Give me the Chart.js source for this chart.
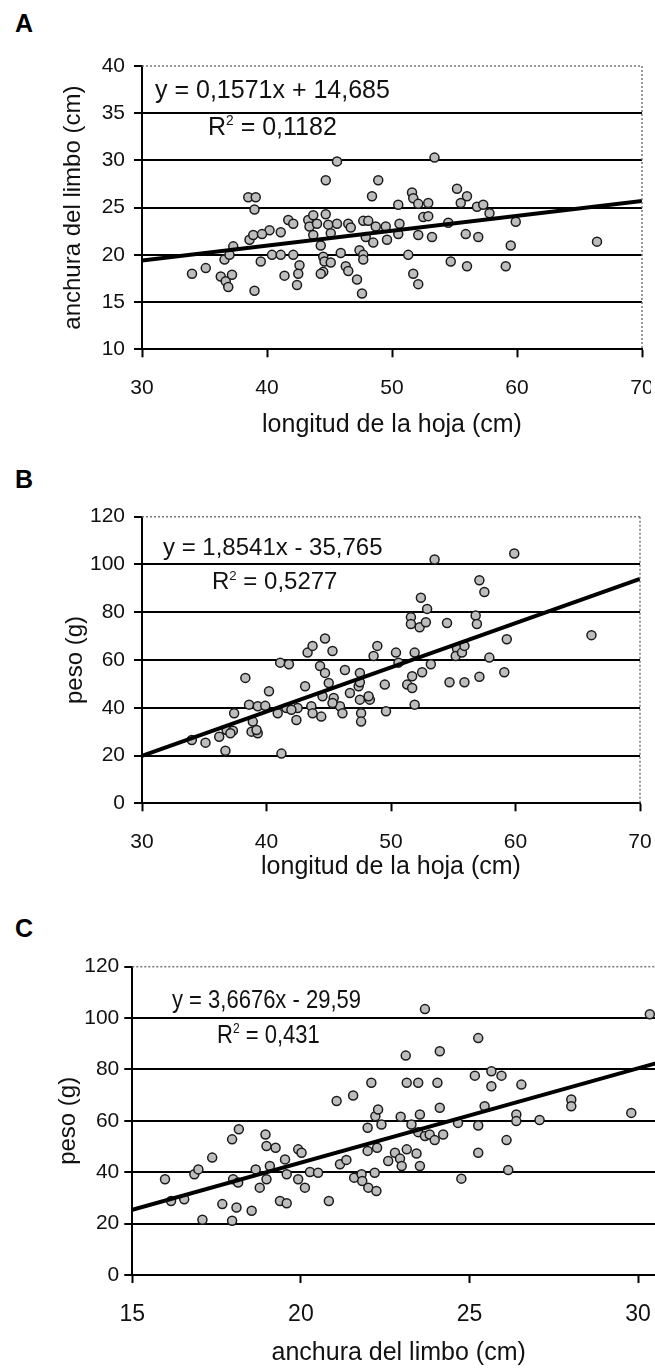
<!DOCTYPE html>
<html>
<head>
<meta charset="utf-8">
<script src="https://cdn.jsdelivr.net/npm/chart.js@4.4.0/dist/chart.umd.min.js"></script>
<style>
html, body { margin: 0; padding: 0; background: #fff; width: 655px; height: 1368px; overflow: hidden; }
.panel { position: absolute; left: 0; overflow: hidden; }
.panel canvas { position: absolute; left: 0; top: 0; }
.letter { position: absolute; left: 15px; font: bold 25px 'Liberation Sans', Arial, sans-serif; line-height: 1; color: #000; }
.eq { position: absolute; font-family: 'Liberation Sans', Arial, sans-serif; line-height: 1; white-space: nowrap; color: #111; transform-origin: left center; }
.eq sup { font-size: 0.55em; vertical-align: 0.7em; }
</style>
</head>
<body>

<div class="letter" style="top:11px">A</div>
<div class="letter" style="top:467px">B</div>
<div class="letter" style="top:916px">C</div>

<div class="panel" style="top:0px;width:651px;height:450px"><canvas id="chartA" width="760" height="450"></canvas></div>
<div class="panel" style="top:460px;width:655px;height:430px"><canvas id="chartB" width="760" height="430"></canvas></div>
<div class="panel" style="top:930px;width:655px;height:438px"><canvas id="chartC" width="760" height="438"></canvas></div>

<div class="eq" style="left:155px;top:77px;font-size:25px">y = 0,1571x + 14,685</div>
<div class="eq" style="left:208px;top:114px;font-size:25px">R<sup>2</sup> = 0,1182</div>
<div class="eq" style="left:163px;top:535px;font-size:24px">y = 1,8541x - 35,765</div>
<div class="eq" style="left:212px;top:569px;font-size:24px">R<sup>2</sup> = 0,5277</div>
<div class="eq" style="left:172px;top:987px;font-size:25px;transform:scaleX(0.88)">y = 3,6676x - 29,59</div>
<div class="eq" style="left:217px;top:1022px;font-size:25px;transform:scaleX(0.88)">R<sup>2</sup> = 0,431</div>

<script>
// A: leaf length vs blade width
const leafLenA = [34.0, 35.1, 36.3, 36.7, 36.9, 37.2, 36.6, 37.0, 37.3, 39.0, 38.6, 38.9, 38.5, 39.1, 39.0, 39.5, 40.2, 39.6, 40.4, 41.1,
    41.1, 41.4, 41.7, 42.1, 42.1, 42.6, 42.5, 42.4, 43.3, 43.7, 43.4, 44.0, 43.7, 44.7, 45.6, 44.7, 44.9, 45.1, 45.6, 44.3,
    44.5, 44.6, 45.1, 44.5, 44.3, 45.9, 46.3, 46.5, 46.5, 46.7, 47.2, 47.6, 47.4, 47.7, 47.7, 47.7, 48.1, 47.9, 48.4, 48.9,
    48.7, 48.5, 49.5, 49.6, 50.5, 50.6, 50.5, 51.3, 51.6, 51.7, 52.1, 52.9, 51.7, 52.1, 52.1, 52.5, 52.9, 53.2, 53.4, 54.5,
    54.7, 55.2, 56.0, 55.5, 55.9, 56.0, 56.9, 56.8, 57.3, 57.8, 59.1, 59.5, 59.9, 66.4];
const bladeWidthA = [18.0, 18.6, 17.7, 17.2, 16.6, 17.9, 19.5, 20.0, 20.9, 16.2, 21.6, 22.1, 26.1, 26.1, 24.8, 19.3, 22.6, 22.2, 20.0, 20.0,
    22.4, 17.8, 23.7, 23.3, 20.0, 18.9, 18.0, 16.8, 23.7, 24.2, 23.0, 23.3, 22.1, 27.9, 29.9, 24.3, 23.2, 22.3, 23.3, 21.0,
    19.8, 19.3, 19.2, 18.2, 18.0, 20.2, 18.8, 18.3, 23.3, 22.9, 17.4, 15.9, 20.5, 20.0, 19.5, 23.6, 23.6, 21.9, 26.2, 27.9,
    23.0, 21.3, 23.0, 21.6, 25.3, 23.3, 22.2, 20.0, 26.6, 26.0, 25.4, 25.5, 18.0, 16.9, 22.1, 24.0, 24.1, 21.9, 30.3, 23.4,
    19.3, 27.0, 26.2, 25.5, 22.2, 18.8, 21.9, 25.1, 25.3, 24.4, 18.8, 21.0, 23.5, 21.4];
const trendXA = [30, 70];
const trendYA = [19.4, 25.7];

// B: leaf length vs weight
const leafLenB = [34.0, 35.1, 36.2, 36.7, 36.8, 37.3, 37.4, 38.3, 38.6, 38.9, 38.8, 39.3, 39.3, 39.9, 40.2, 40.9, 41.2, 41.1, 41.8, 41.6,
    42.4, 42.5, 42.0, 43.1, 43.3, 43.7, 44.7, 45.3, 43.6, 43.7, 44.4, 44.3, 44.7, 45.0, 44.5, 45.4, 45.9, 46.1, 46.3, 46.7,
    47.5, 47.4, 47.5, 47.6, 47.6, 48.3, 48.6, 48.9, 49.5, 49.6, 50.4, 50.6, 51.3, 51.7, 51.9, 51.6, 51.6, 52.3, 52.8, 52.4,
    52.9, 53.5, 51.9, 52.5, 53.2, 54.5, 54.7, 55.3, 55.2, 55.7, 55.9, 55.9, 56.8, 56.9, 57.1, 57.5, 57.1, 57.9, 59.1, 59.3,
    59.9, 66.1, 45.3, 37.1, 39.2, 47.5, 51.7, 48.2];
const weightB = [26.5, 25.4, 27.9, 22.0, 30.7, 30.4, 37.7, 52.5, 41.3, 34.2, 30.0, 29.3, 40.6, 40.8, 46.9, 37.7, 20.8, 58.9, 58.2, 39.9,
    34.9, 39.9, 39.2, 49.0, 63.1, 65.9, 69.0, 63.8, 40.6, 37.7, 36.3, 57.5, 54.6, 50.4, 44.8, 44.1, 40.6, 37.7, 55.8, 46.2,
    54.6, 49.0, 43.4, 37.7, 34.2, 43.4, 61.7, 65.9, 49.7, 38.5, 63.1, 58.9, 49.7, 48.3, 41.3, 77.9, 75.1, 73.7, 75.8, 86.1,
    81.4, 102.1, 63.1, 54.9, 58.2, 75.5, 50.7, 64.8, 61.7, 63.1, 65.9, 50.7, 78.6, 75.1, 93.4, 88.5, 53.0, 61.0, 54.9, 68.7,
    104.6, 70.4, 42.0, 29.3, 30.7, 50.7, 53.2, 44.8];
const trendXB = [30, 70];
const trendYB = [19.9, 94.0];

// C: blade width vs weight
const bladeWidthC = [15.97, 16.15, 16.54, 16.84, 16.96, 17.08, 17.37, 17.67, 17.96, 18.16, 17.96, 18.09, 17.99, 18.14, 18.54, 18.66, 18.78, 18.95, 18.98, 19.25,
    18.98, 19.08, 19.38, 19.58, 19.53, 19.58, 19.92, 20.02, 19.92, 20.12, 20.27, 20.51, 20.83, 21.06, 21.16, 21.35, 21.55, 21.58, 21.80, 21.82,
    22.00, 22.24, 21.98, 22.09, 22.21, 22.29, 22.39, 21.98, 22.26, 22.19, 22.59, 22.79, 22.94, 22.99, 23.14, 23.11, 23.14, 23.48, 22.96, 23.28,
    23.53, 23.48, 23.43, 23.53, 23.68, 23.68, 23.82, 23.97, 24.22, 24.05, 24.12, 24.12, 24.66, 24.76, 25.16, 25.26, 25.26, 25.26, 25.45, 25.65,
    25.95, 25.65, 26.10, 26.15, 26.39, 26.39, 26.54, 27.08, 28.02, 28.02, 29.80, 30.35];
const weightC = [37.3, 28.8, 29.5, 39.2, 41.1, 21.5, 45.7, 27.6, 52.8, 56.7, 21.1, 26.3, 37.3, 36.0, 25.0, 41.1, 34.0, 54.7, 50.2, 49.5,
    37.3, 42.4, 28.8, 27.9, 45.0, 39.2, 48.9, 47.6, 37.3, 34.0, 40.1, 39.8, 28.8, 67.7, 43.1, 44.8, 69.9, 37.9, 39.2, 36.6,
    34.0, 32.7, 57.3, 74.8, 61.8, 64.4, 58.6, 48.3, 49.5, 39.8, 44.4, 47.6, 45.3, 42.4, 48.9, 85.4, 74.8, 74.8, 61.6, 58.6,
    62.5, 55.6, 47.3, 42.4, 103.5, 54.1, 54.7, 52.5, 54.7, 74.8, 87.1, 65.1, 59.2, 37.5, 77.6, 92.2, 58.2, 47.6, 65.7, 79.3,
    77.6, 73.5, 52.5, 40.9, 62.5, 59.9, 74.1, 60.3, 68.3, 65.7, 63.1, 101.5];
const trendXC = [15, 35];
const trendYC = [25.4, 98.8];

const FONT = "'Liberation Sans', Arial, sans-serif";

function pairs(xs, ys) {
    return xs.map((x, i) => ({ x: x, y: ys[i] }));
}

// dotted frame on top / right of the plot area
const frameLines = {
    id: 'frameLines',
    afterDatasetsDraw(chart, args, opts) {
        const { ctx, chartArea: a } = chart;
        ctx.save();
        ctx.strokeStyle = '#777';
        ctx.lineWidth = 1.5;
        ctx.setLineDash([2, 2]);
        ctx.beginPath();
        ctx.moveTo(a.left, a.top);
        ctx.lineTo(a.right, a.top);
        if (opts.right) {
            ctx.moveTo(a.right, a.top);
            ctx.lineTo(a.right, a.bottom);
        }
        ctx.stroke();
        ctx.restore();
    }
};

function makePanel(id, c) {
    const ctx = document.getElementById(id).getContext('2d');
    return new Chart(ctx, {
        type: 'scatter',
        data: {
            datasets: [
                {
                    data: pairs(c.trendX, c.trendY),
                    showLine: true,
                    borderColor: '#000',
                    borderWidth: 4,
                    pointRadius: 0,
                    order: 0
                },
                {
                    data: pairs(c.xs, c.ys),
                    pointRadius: 4.5,
                    pointBackgroundColor: '#bdbdbd',
                    pointBorderColor: '#1a1a1a',
                    pointBorderWidth: 1.5,
                    order: 1
                }
            ]
        },
        options: {
            responsive: false,
            animation: false,
            layout: { padding: { left: 0, top: c.padTop, right: c.padRight, bottom: 0 } },
            plugins: {
                legend: { display: false },
                tooltip: { enabled: false },
                frameLines: { right: c.rightFrame }
            },
            scales: {
                x: {
                    type: 'linear',
                    min: c.xMin, max: c.xMax,
                    ticks: {
                        stepSize: c.xStep, padding: 18, color: '#111',
                        includeBounds: false,
                        font: { family: FONT, size: c.xTickSize }
                    },
                    grid: { drawOnChartArea: false, drawTicks: true, tickLength: 8, tickColor: '#000', tickWidth: 2 },
                    border: { color: '#000', width: 2 },
                    title: {
                        display: true, text: c.xTitle, color: '#111',
                        font: { family: FONT, size: 25, lineHeight: 1 },
                        padding: { top: 0, bottom: c.xTitlePad }
                    },
                    afterFit: s => { s.height = c.xAxisH; s.paddingLeft = 0; s.paddingRight = 0; }
                },
                y: {
                    min: c.yMin, max: c.yMax,
                    ticks: { stepSize: c.yStep, padding: c.yTickPad, color: '#111', font: { family: FONT, size: 21 } },
                    grid: {
                        color: g => (g.tick && g.tick.value === c.yMax) ? 'rgba(0,0,0,0)' : '#000',
                        lineWidth: 2, tickLength: 8, tickColor: '#000', tickWidth: 2
                    },
                    border: { color: '#000', width: 2 },
                    title: {
                        display: true, text: c.yTitle, color: '#111',
                        font: { family: FONT, size: 24, lineHeight: 1 },
                        padding: { top: c.yTitlePad, bottom: 0 }
                    },
                    afterFit: s => { s.width = c.yAxisW; s.paddingTop = 0; s.paddingBottom = 0; }
                }
            }
        },
        plugins: [frameLines]
    });
}

makePanel('chartA', {
    xs: leafLenA, ys: bladeWidthA, trendX: trendXA, trendY: trendYA,
    xMin: 30, xMax: 70, xStep: 10, yMin: 10, yMax: 40, yStep: 5,
    xTitle: 'longitud de la hoja (cm)', yTitle: 'anchura del limbo (cm)',
    padTop: 66, padRight: 118, yAxisW: 142, xAxisH: 100.7, xTickSize: 21,
    xTitlePad: 12, yTitlePad: 61, yTickPad: 9, rightFrame: true
});

makePanel('chartB', {
    xs: leafLenB, ys: weightB, trendX: trendXB, trendY: trendYB,
    xMin: 30, xMax: 70, xStep: 10, yMin: 0, yMax: 120, yStep: 20,
    xTitle: 'longitud de la hoja (cm)', yTitle: 'peso (g)',
    padTop: 56.7, padRight: 120, yAxisW: 142, xAxisH: 86.7, xTickSize: 21,
    xTitlePad: 10, yTitlePad: 63, yTickPad: 9, rightFrame: true
});

makePanel('chartC', {
    xs: bladeWidthC, ys: weightC, trendX: trendXC, trendY: trendYC,
    xMin: 15, xMax: 30.8, xStep: 5, yMin: 0, yMax: 120, yStep: 20,
    xTitle: 'anchura del limbo (cm)', yTitle: 'peso (g)',
    padTop: 36.7, padRight: 95, yAxisW: 132.3, xAxisH: 93, xTickSize: 23,
    xTitlePad: 2, yTitlePad: 56, yTickPad: 5, rightFrame: false
});
</script>
</body>
</html>
